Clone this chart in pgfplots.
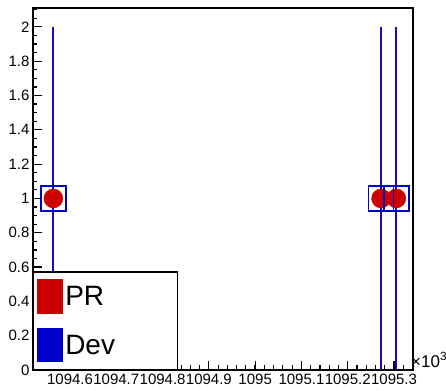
\documentclass[border=0pt]{standalone}
\usepackage{fontspec}
\setmainfont{Liberation Sans}
\usepackage{pgfplots}
\pgfplotsset{compat=1.18}
\definecolor{prred}{RGB}{204,0,0}
\definecolor{devblue}{RGB}{0,0,204}
\definecolor{errcol}{RGB}{45,0,190}
\begin{document}
\begin{tikzpicture}
\useasboundingbox (-33pt,-20pt) rectangle (413pt,370pt);
\begin{axis}[
  at={(0,0)}, anchor=south west, scale only axis,
  width=380pt, height=362pt,
  xmin=1094.52, xmax=1095.341, ymin=0, ymax=2.11,
  axis line style={line width=1.8pt},
  tick align=inside, xtick pos=bottom, ytick pos=left,
  xtick={1094.6,1094.7,1094.8,1094.9,1095,1095.1,1095.2,1095.3},
  xticklabels={1094.6,1094.7,1094.8,1094.9,1095,1095.1,1095.2,1095.3},
  minor xtick={1094.52,1094.54,...,1095.34},
  ytick={0,0.2,0.4,0.6,0.8,1,1.2,1.4,1.6,1.8,2},
  yticklabels={0,0.2,0.4,0.6,0.8,1,1.2,1.4,1.6,1.8,2},
  minor ytick={0.05,0.1,...,2.1},
  tick style={line width=1.2pt, black},
  major tick length=9pt, minor tick length=4.5pt,
  ticklabel style={font=\fontsize{15}{15}\selectfont},
  /pgf/number format/assume math mode=true,
  legend style={at={(0,0)}, anchor=south west, draw=black, line width=1.5pt,
    font=\fontsize{28}{30}\selectfont, inner xsep=3pt, inner ysep=7pt,
    row sep=14pt, fill=white},
  legend cell align=left,
  clip=false,
]
% error bars
\addplot[errcol, line width=2pt, only marks, mark=none, forget plot,
  error bars/.cd, y dir=both, y explicit, error mark=none,
  error bar style={errcol, line width=2pt}]
  coordinates {(1094.564,1) +- (0,1) (1095.272,1) +- (0,1) (1095.305,1) +- (0,1)};
% PR points
\addplot[only marks, mark=*, mark size=9.5pt, prred, mark options={draw=prred, fill=prred}, forget plot]
  coordinates {(1094.564,1) (1095.272,1) (1095.305,1)};
% Dev points
\addplot[only marks, mark=square, mark size=12.5pt, devblue, mark options={line width=1.8pt}, forget plot]
  coordinates {(1094.564,1) (1095.272,1) (1095.305,1)};
\addlegendimage{legend image code/.code={\fill[prred] (0pt,-16pt) rectangle (25pt,17pt);}}
\addlegendentry{\makebox[107pt][l]{PR}}
\addlegendimage{legend image code/.code={\fill[devblue] (0pt,-16pt) rectangle (25pt,17pt);}}
\addlegendentry{\makebox[107pt][l]{Dev}}
\node[anchor=base west, font=\fontsize{17}{17}\selectfont, inner sep=0pt, xshift=-2pt, yshift=3pt] at (rel axis cs:1,0) {×10\textsuperscript{3}};
\end{axis}
\end{tikzpicture}
\end{document}
